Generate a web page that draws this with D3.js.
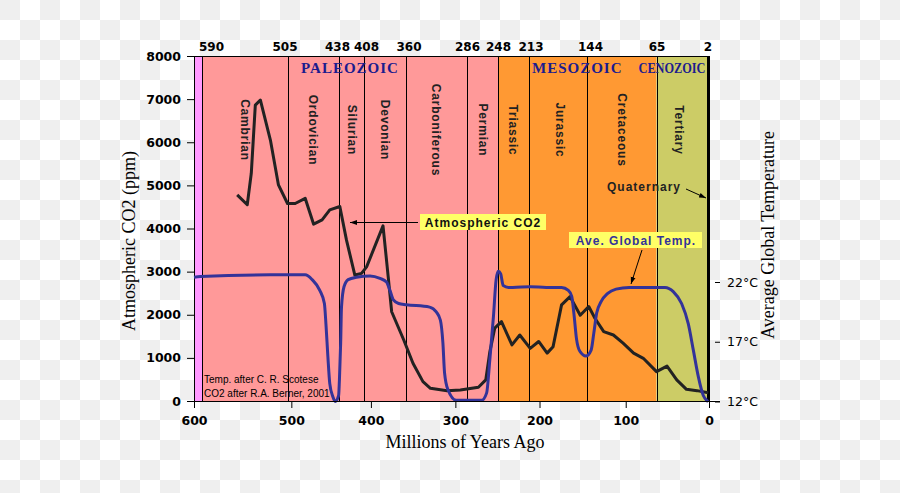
<!DOCTYPE html>
<html><head><meta charset="utf-8">
<script src="https://cdn.jsdelivr.net/npm/d3@7"></script>
<style>
html,body{margin:0;padding:0;}
body{width:900px;height:493px;overflow:hidden;background:repeating-conic-gradient(#ffffff 0% 25%, #efefef 0% 50%) 0 0/40px 40px;}
svg{display:block;}
</style></head><body><svg id="chart" width="900" height="493"></svg>
<script>
// ---------- data ----------
const periodNames = ["Cambrian","Ordovician","Silurian","Devonian","Carboniferous","Permian","Triassic","Jurassic","Cretaceous","Tertiary"];
const periodBounds = [590,505,438,408,360,286,248,213,144,65,2];
const eraNames = ["PALEOZOIC","MESOZOIC","CENOZOIC"];
const eraStart = [590,248,65];
const eraEnd = [248,65,0];
const ageTicks = [600,500,400,300,200,100,0];
const ppmTicks = [0,1000,2000,3000,4000,5000,6000,7000,8000];
const tempTicks = [12,17,22];
const co2Age = [555,545,541,537,532,522,514,505,495,482,471,460,450,437,429,419,411,405,386,380,376,362,351,339,330,310,294,272,263,258,252,244,232,223,211,201,191,184,174,164,152,142,135,125,114,103,91,80,65,52,40,28,15,1];
const co2Ppm = [4780,4550,5280,6860,6980,6050,5010,4580,4580,4700,4100,4200,4430,4510,3730,2920,2960,3110,4060,2880,2070,1415,875,450,295,240,255,320,490,1140,1690,1840,1300,1530,1220,1380,1110,1260,2230,2420,1990,2190,1920,1610,1530,1340,1110,990,680,810,490,270,240,190];
const tempAge = [600,592,522,502,482,473,463,457,455,452.5,450,446,443,438.5,437.5,436,435,432,427,417,401,389.5,382,378,374,368,359,331,323,318,315,313,309,299,268,262,258,253.6,250.3,247.7,245,242,236,231,211,192,174,166,162,159.5,156.3,152.4,145.3,139.3,136.3,133,128,120.4,111,96,77,54.5,44.3,34,25.7,19.5,13.4,7.2,3,1];
const tempC = [22.4,22.45,22.6,22.6,22.6,22.2,21.3,20.2,18.5,15.8,13.5,12.4,12.0,12.5,13.8,16.9,19.9,21.6,22.2,22.4,22.5,22.3,22.0,21.3,20.5,20.2,20.1,19.9,19.5,18.8,16.9,14.4,13.0,12.1,12.1,12.7,15.5,19.1,22.2,22.9,22.7,21.7,21.55,21.55,21.6,21.55,21.55,21.3,20.8,19.4,17.2,16.2,15.8,16.3,17.7,19.4,20.35,21.05,21.4,21.55,21.55,21.55,21.2,20.2,18.5,16.3,14.1,12.5,12.1,12.0];

// ---------- layout ----------
const svg = d3.select("#chart");
const plotTop = 56, plotBot = 401;
// geological time scale is drawn non-uniformly: piecewise linear scale
const xDomainStops = [600,590,505,438,408,360,286,248,213,144,65,2,0];
const xRangeStops  = [194,202,287.5,339,364,405.5,467,498,528.5,587,656.5,707.5,709];
const x = d3.scaleLinear().domain(xDomainStops).range(xRangeStops);
const y = d3.scaleLinear().domain([0,8000]).range([plotBot, plotTop]);
const yT = d3.scaleLinear().domain([12,22]).range([401.5, 282]);

const eraColor = {PALEOZOIC:"#ff9999", MESOZOIC:"#ff9933", CENOZOIC:"#cccc66"};
const numFont = "'DejaVu Sans', sans-serif";
const labFont = "'Liberation Sans', Arial, sans-serif";
const serif = "'Liberation Serif', 'Times New Roman', serif";

// pre-Cambrian strip
svg.append("rect").attr("x", x(600)).attr("y", plotTop).attr("width", x(590)-x(600)).attr("height", plotBot-plotTop).attr("fill", "#ff99ff");
// era backgrounds
svg.selectAll("rect.era").data(eraNames).enter().append("rect").attr("class","era")
  .attr("x", (d,i)=>x(eraStart[i])).attr("y", plotTop)
  .attr("width", (d,i)=>x(eraEnd[i])-x(eraStart[i])).attr("height", plotBot-plotTop)
  .attr("fill", d=>eraColor[d]);

// boundary lines
svg.selectAll("line.bound").data(periodBounds).enter().append("line").attr("class","bound")
  .attr("x1", d=>Math.round(x(d))+0.5).attr("x2", d=>Math.round(x(d))+0.5)
  .attr("y1", plotTop).attr("y2", plotBot)
  .attr("stroke", "#000").attr("stroke-width", d=>d===2?3:1);
// plot border top & left
svg.append("line").attr("x1", x(600)).attr("x2", x(0)).attr("y1", plotTop+0.5).attr("y2", plotTop+0.5).attr("stroke","#000");
svg.append("line").attr("x1", x(600)+0.5).attr("x2", x(600)+0.5).attr("y1", plotTop).attr("y2", plotBot).attr("stroke","#000");

// era labels
svg.selectAll("text.era").data(eraNames).enter().append("text").attr("class","era")
  .attr("x", (d,i)=> i===2 ? x(eraStart[i])-18 : (x(eraStart[i])+x(eraEnd[i]))/2)
  .attr("y", 73)
  .attr("text-anchor", (d,i)=> i===2 ? "start" : "middle")
  .attr("font-family", serif).attr("font-weight","bold").attr("font-size", 15)
  .attr("letter-spacing", (d,i)=> i===2 ? 0 : 1)
  .attr("fill", "#1c1c8e")
  .each(function(d,i){ if(i===2){ d3.select(this).attr("textLength", 67).attr("lengthAdjust","spacingAndGlyphs"); } })
  .text(d=>d);

// period labels (rotated)
const periodShift = {Jurassic: 2.5, Tertiary: -3};
svg.selectAll("text.period").data(periodNames).enter().append("text").attr("class","period")
  .attr("transform", (d,i)=>`translate(${(x(periodBounds[i])+x(periodBounds[i+1]))/2 + (periodShift[d]||0)},130) rotate(90)`)
  .attr("text-anchor","middle").attr("dominant-baseline","central")
  .attr("font-family", labFont).attr("font-weight","bold").attr("font-size", 12)
  .attr("letter-spacing", 0.8).attr("fill", "#222")
  .text(d=>d);

// Quaternary label & arrow
const defs = svg.append("defs");
defs.append("marker").attr("id","ah").attr("viewBox","0 0 10 10").attr("refX",10).attr("refY",5)
  .attr("markerWidth",7).attr("markerHeight",7).attr("orient","auto-start-reverse")
  .append("path").attr("d","M0,1.5 L10,5 L0,8.5 Z").attr("fill","#000");
svg.append("text").attr("x", 607).attr("y", 190.5)
  .attr("font-family", labFont).attr("font-weight","bold").attr("font-size", 12).attr("letter-spacing", 1)
  .attr("fill","#222").text("Quaternary");
svg.append("line").attr("x1",686).attr("y1",189).attr("x2",706).attr("y2",198)
  .attr("stroke","#000").attr("stroke-width",1).attr("marker-end","url(#ah)");

// ---------- curves ----------
const co2Data = co2Age.map((a,i)=>[a, co2Ppm[i]]);
const tempData = tempAge.map((a,i)=>[a, tempC[i]]);
svg.append("path").datum(co2Data)
  .attr("d", d3.line().x(d=>x(d[0])).y(d=>y(d[1])).curve(d3.curveLinear))
  .attr("fill","none").attr("stroke","#222").attr("stroke-width",3).attr("stroke-linejoin","round");
svg.append("path").datum(tempData)
  .attr("d", d3.line().x(d=>x(d[0])).y(d=>yT(d[1])).curve(d3.curveMonotoneX))
  .attr("fill","none").attr("stroke","#333399").attr("stroke-width",3).attr("stroke-linejoin","round");

// ---------- annotations ----------
svg.append("line").attr("x1",418).attr("y1",222.5).attr("x2",350).attr("y2",222.5)
  .attr("stroke","#000").attr("stroke-width",1).attr("marker-end","url(#ah)");
svg.append("rect").attr("x",420).attr("y",214).attr("width",126).attr("height",16).attr("fill","#ffff66");
svg.append("text").attr("x",483).attr("y",226.5).attr("text-anchor","middle")
  .attr("font-family", labFont).attr("font-weight","bold").attr("font-size",12).attr("letter-spacing",1)
  .attr("fill","#111").text("Atmospheric CO2");
svg.append("rect").attr("x",569).attr("y",232).attr("width",133).attr("height",16).attr("fill","#ffff66");
svg.append("text").attr("x",636).attr("y",244.5).attr("text-anchor","middle")
  .attr("font-family", labFont).attr("font-weight","bold").attr("font-size",12).attr("letter-spacing",1)
  .attr("fill","#333399").text("Ave. Global Temp.");
svg.append("line").attr("x1",642).attr("y1",250).attr("x2",631).attr("y2",284)
  .attr("stroke","#000").attr("stroke-width",1).attr("marker-end","url(#ah)");

svg.append("text").attr("x",204).attr("y",383).attr("font-family",labFont).attr("font-size",10).attr("fill","#000").text("Temp. after C. R. Scotese");
svg.append("text").attr("x",204).attr("y",397).attr("font-family",labFont).attr("font-size",10).attr("fill","#000").text("CO2 after R.A. Berner, 2001");

// ---------- axes ----------
function styleAxis(g, bold, size){
  g.selectAll("text").attr("font-family", numFont).attr("font-size", size || 12.5)
    .attr("font-weight", bold ? "bold" : "normal").attr("fill","#000");
  g.selectAll("line").attr("stroke","#000");
  g.selectAll("path.domain").attr("stroke","#000");
}
const gB = svg.append("g").attr("transform",`translate(0,${plotBot})`)
  .call(d3.axisBottom(x).tickValues(ageTicks).tickSize(7).tickPadding(8).tickFormat(d3.format("d")));
gB.select("path.domain").attr("d", `M${x(600)},0.5H${x(0)+11}`);
styleAxis(gB, true);

const gL = svg.append("g").attr("transform",`translate(${x(600)},0)`)
  .call(d3.axisLeft(y).tickValues(ppmTicks).tickSize(7).tickPadding(6).tickFormat(d3.format("d")));
gL.select("path.domain").remove();
styleAxis(gL, true);

const gT = svg.append("g").attr("transform",`translate(0,${plotTop})`)
  .call(d3.axisTop(x).tickValues(periodBounds).tickSize(0).tickPadding(5).tickFormat(d3.format("d")));
gT.select("path.domain").remove();
styleAxis(gT, true, 12);
const topShift = {590: 9, 505: -3, 438: -2, 408: 2, 360: 3, 213: 2, 144: 3};
gT.selectAll(".tick text").attr("dx", d=> topShift[d] || 0);

const gR = svg.append("g").attr("transform",`translate(715,0)`)
  .call(d3.axisRight(yT).tickValues(tempTicks).tickSize(5).tickPadding(7).tickFormat(d=>d+"\u00B0C"));
gR.select("path.domain").remove();
styleAxis(gR, false);

svg.append("text").attr("transform","translate(135,241) rotate(-90)").attr("text-anchor","middle")
  .attr("font-family",serif).attr("font-size",18).attr("fill","#000").text("Atmospheric CO2 (ppm)");
svg.append("text").attr("transform","translate(774,235) rotate(-90)").attr("text-anchor","middle")
  .attr("font-family",serif).attr("font-size",18).attr("fill","#000").text("Average Global Temperature");
svg.append("text").attr("x",465).attr("y",448).attr("text-anchor","middle")
  .attr("font-family",serif).attr("font-size",18).attr("fill","#000").text("Millions of Years Ago");
</script></body></html>
